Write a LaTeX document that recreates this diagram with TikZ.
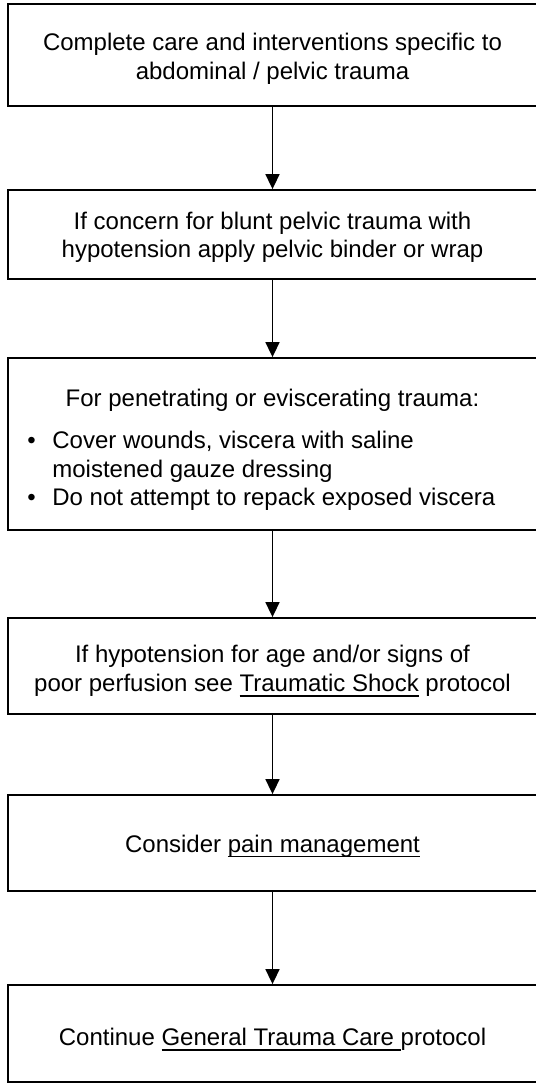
\documentclass[tikz,border=0pt]{standalone}
\usepackage{fontspec}
\setmainfont{Liberation Sans}
\usetikzlibrary{arrows.meta}
\newcommand{\ulink}[1]{\setbox0\hbox{#1}\rlap{\rule[-5.2pt]{\wd0}{1.5pt}}\box0\relax}
\tikzset{
  stepbox/.style={draw=black, line width=1.8pt, rectangle, minimum width=529pt, inner sep=0pt},
  steptext/.style={align=center, inner sep=0pt, font=\fontsize{24}{28.5}\selectfont},
  flowarrow/.style={line width=1.6pt, -{Triangle[width=14pt,length=15pt]}}
}

\begin{document}
\begin{tikzpicture}[x=1pt, y=-1pt]
        \useasboundingbox (0,0) rectangle (535,1083);
        \node[stepbox, minimum height=102pt] (complete) at (272.5,55) {};
        \node[stepbox, minimum height=89pt] (binder) at (272.5,234.5) {};
        \node[stepbox, minimum height=172pt] (penetr) at (272.5,444) {};
        \node[stepbox, minimum height=96pt] (shock) at (272.5,666) {};
        \node[stepbox, minimum height=96pt] (pain) at (272.5,843) {};
        \node[stepbox, minimum height=97pt] (general) at (272.5,1033.5) {};
        \node[steptext, yshift=-4pt] (completetxt) at (complete.center)
          {Complete care and interventions specific to\\abdominal / pelvic trauma};
        \node[steptext, yshift=-3pt] (bindertxt) at (binder.center)
          {If concern for blunt pelvic trauma with\\hypotension apply pelvic binder or wrap};
        \node[steptext, yshift=-8pt] (penetrtxt) at (penetr.center)
          {\parbox{500pt}{\centering For penetrating or eviscerating trauma:\par
           \vspace{13.5pt}\raggedright\hspace*{5pt}%
           \begin{tabular}[t]{@{}l@{\hspace{16.5pt}}l@{}}
             \textbullet & Cover wounds, viscera with saline\\
                         & moistened gauze dressing\\
             \textbullet & Do not attempt to repack exposed viscera
           \end{tabular}}};
        \node[steptext, yshift=-5pt] (shocktxt) at (shock.center)
          {If hypotension for age and/or signs of\\poor perfusion see \ulink{Traumatic Shock} protocol};
        \node[steptext, yshift=-3pt] (paintxt) at (pain.center)
          {Consider \ulink{pain management}};
        \node[steptext, yshift=-6pt] (generaltxt) at (general.center)
          {Continue \ulink{General Trauma Care }protocol};
        \draw[flowarrow] (complete) -- (binder);
        \draw[flowarrow] (binder) -- (penetr);
        \draw[flowarrow] (penetr) -- (shock);
        \draw[flowarrow] (shock) -- (pain);
        \draw[flowarrow] (pain) -- (general);
      \end{tikzpicture}
\end{document}
